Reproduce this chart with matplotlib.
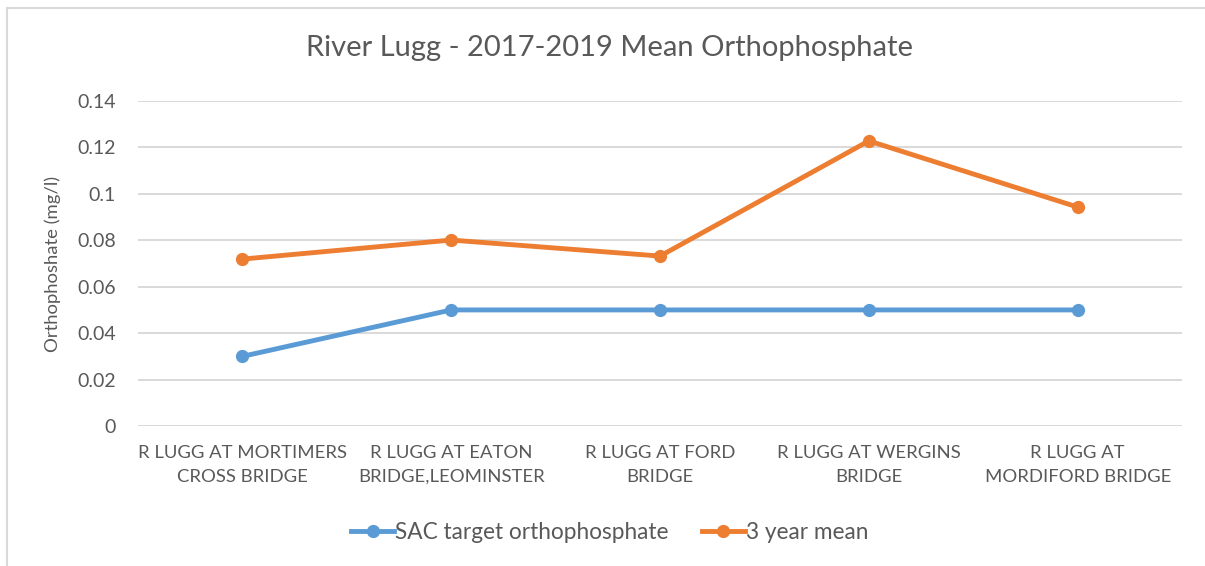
import matplotlib.pyplot as plt
from matplotlib.lines import Line2D

plt.rcParams['font.family'] = ['Lato', 'DejaVu Sans']

sites = ['R LUGG AT MORTIMERS\nCROSS BRIDGE', 'R LUGG AT EATON\nBRIDGE,LEOMINSTER',
         'R LUGG AT FORD\nBRIDGE', 'R LUGG AT WERGINS\nBRIDGE', 'R LUGG AT\nMORDIFORD BRIDGE']
sac_target = [0.03, 0.05, 0.05, 0.05, 0.05]
three_year_mean = [0.0719, 0.0801, 0.0732, 0.1228, 0.0943]
yticks = [0, 0.02, 0.04, 0.06, 0.08, 0.1, 0.12, 0.14]
ytick_labels = ['0', '0.02', '0.04', '0.06', '0.08', '0.1', '0.12', '0.14']

grey = '#595959'
blue = '#5B9BD5'
orange = '#ED7D31'
lw, ms = 3.5, 8.5

fig = plt.figure(figsize=(12.05, 5.66), dpi=100)
ax = fig.add_axes([0.1145, 0.2473, 0.981 - 0.1145, 0.8216 - 0.2473])

x = list(range(len(sites)))
ax.plot(x, sac_target, color=blue, lw=lw, marker='o', ms=ms, label='SAC target orthophosphate', zorder=3)
ax.plot(x, three_year_mean, color=orange, lw=lw, marker='o', ms=ms, label='3 year mean', zorder=3)

ax.set_xlim(-0.5, len(sites) - 0.5)
ax.set_ylim(0, 0.14)
ax.set_yticks(yticks)
ax.set_yticklabels(ytick_labels)
ax.set_xticks(x)
ax.set_xticklabels(sites, linespacing=1.55)
ax.tick_params(axis='y', length=0, pad=16, labelsize=14, labelcolor=grey)
ax.tick_params(axis='x', length=0, pad=14, labelsize=13.3, labelcolor=grey)
ax.grid(axis='y', color='#D9D9D9', lw=1.4)
ax.set_axisbelow(True)
for s in ax.spines.values():
    s.set_visible(False)

ax.set_ylabel('Orthophoshate (mg/l)', fontsize=13.3, color=grey)
ax.yaxis.set_label_coords(-0.074, 0.5)

fig.text(0.506, 0.915, 'River Lugg - 2017-2019 Mean Orthophosphate', ha='center', va='center',
         fontsize=21, color=grey)

handles = [Line2D([], [], color=blue, lw=lw, marker='o', ms=ms),
           Line2D([], [], color=orange, lw=lw, marker='o', ms=ms)]
fig.legend(handles, ['SAC target orthophosphate', '3 year mean'], loc='center',
           bbox_to_anchor=(0.506, 0.06), ncol=2, frameon=False, fontsize=16.3,
           labelcolor=grey, handlelength=1.9, handletextpad=0.05, columnspacing=1.45)

# chart frame (top and left edges)
fig.add_artist(Line2D([7 / 1205, 1], [1 - 8 / 566] * 2, color='#D9D9D9', lw=1.5))
fig.add_artist(Line2D([7 / 1205] * 2, [0, 1 - 8 / 566], color='#D9D9D9', lw=1.5))

fig.savefig('out.png', dpi=100)
